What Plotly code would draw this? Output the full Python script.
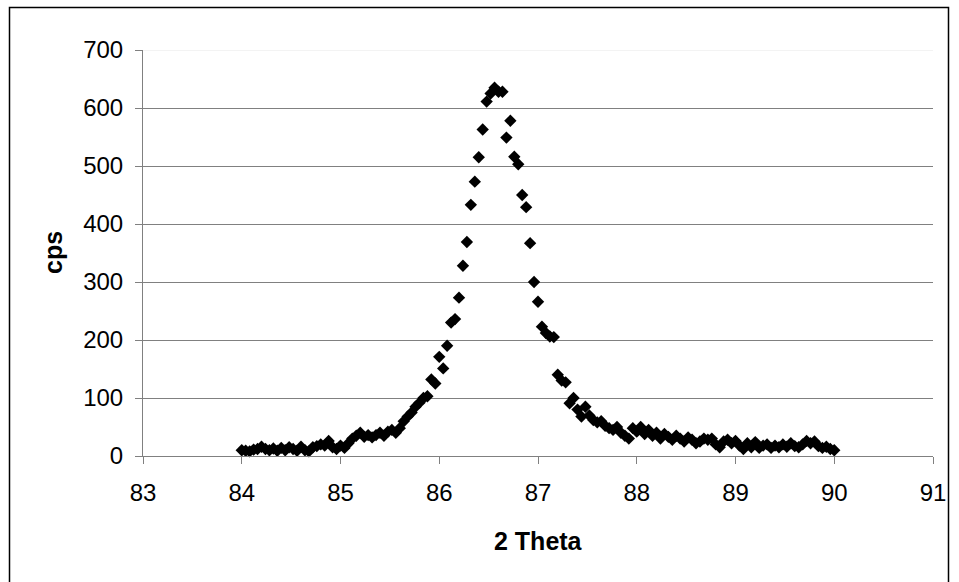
import numpy as np
import plotly.graph_objects as go

# scan grid (2 Theta): 84.00 .. 90.00, step 0.04
scan_start = 84.0
scan_step = 0.04

# cps values in three segments
cps_left = [10, 9, 8, 11, 12, 16, 12, 10, 13, 9,
            14, 10, 15, 12, 9, 16, 10, 8, 15, 17,
            20, 18, 26, 15, 12, 18, 14, 22, 30, 35,
            40, 33, 36, 32, 36, 40, 35, 42, 45, 40,
            48, 60, 68, 75, 85, 92, 100]
cps_peak = [103, 132, 125, 171, 151, 190, 230, 236, 273, 328,
            369, 433, 473, 515, 563, 611, 625, 635, 628, 628,
            549, 578, 516, 503, 450, 429, 367, 300, 266, 223,
            212, 206, 205, 140, 130, 127, 91, 100]
cps_right = [80, 68, 85, 70, 62, 58, 60, 52, 48, 45,
             50, 40, 35, 30, 48, 42, 50, 38, 45, 35,
             40, 30, 38, 33, 28, 35, 30, 25, 32, 28,
             22, 25, 30, 28, 30, 20, 15, 25, 28, 22,
             26, 18, 12, 22, 15, 24, 14, 18, 20, 14,
             18, 15, 20, 16, 22, 17, 15, 20, 26, 22,
             25, 17, 14, 16, 12, 10]

cps = cps_left + cps_peak + cps_right
two_theta = np.round(scan_start + scan_step * np.arange(len(cps)), 2)

x_ticks = [83, 84, 85, 86, 87, 88, 89, 90, 91]
y_ticks = [0, 100, 200, 300, 400, 500, 600, 700]

FONT = "Liberation Sans, Arial, sans-serif"

fig = go.Figure()
fig.add_trace(go.Scatter(
    x=two_theta, y=cps, mode="markers",
    marker=dict(symbol="diamond", size=9.5, color="#000000", line=dict(width=0)),
    showlegend=False, cliponaxis=False,
))

# plot-area geometry in pixels
L, R, T, B = 143, 26, 50, 126
W, H = 959, 582
pw, ph = W - L - R, H - T - B

def px(x):
    return (x - L) / pw

def py(y):
    return (H - B - y) / ph

fig.update_layout(
    width=W, height=H,
    margin=dict(l=L, r=R, t=T, b=B, pad=0),
    paper_bgcolor="white", plot_bgcolor="white",
    font=dict(family=FONT, color="black", size=24),
    xaxis=dict(
        range=[83, 91], tickvals=x_ticks, ticktext=[str(v) for v in x_ticks],
        showgrid=False, zeroline=False,
        showline=True, linecolor="#808080", linewidth=1,
        ticks="outside", ticklen=7, tickcolor="#808080", tickwidth=1,
        tickfont=dict(size=24, family=FONT), ticklabelstandoff=8,
    ),
    yaxis=dict(
        range=[0, 700], tickvals=y_ticks, ticktext=[str(v) for v in y_ticks],
        showgrid=True, gridcolor="#808080", gridwidth=1, zeroline=False,
        showline=True, linecolor="#808080", linewidth=1,
        ticks="outside", ticklen=7, tickcolor="#808080", tickwidth=1,
        tickfont=dict(size=24, family=FONT), ticklabelstandoff=7,
    ),
    shapes=[
        dict(type="line", xref="x", yref="y", x0=83, x1=91, y0=700, y1=700,
             line=dict(color="#e8e8e8", width=1), layer="above"),
        dict(type="rect", xref="paper", yref="paper",
             x0=px(9.5), x1=px(948.5), y0=py(600), y1=py(7.5),
             line=dict(color="black", width=1.5), fillcolor="rgba(0,0,0,0)",
             layer="above"),
    ],
    annotations=[
        dict(text="<b>cps</b>", xref="paper", yref="paper",
             x=px(53), y=0.5, textangle=-90, showarrow=False,
             xanchor="center", yanchor="middle",
             font=dict(size=25, family=FONT)),
        dict(text="<b>2 Theta</b>", xref="paper", yref="paper",
             x=0.5, y=py(541), showarrow=False,
             xanchor="center", yanchor="middle",
             font=dict(size=25, family=FONT)),
    ],
)

fig.write_html("out.html")
